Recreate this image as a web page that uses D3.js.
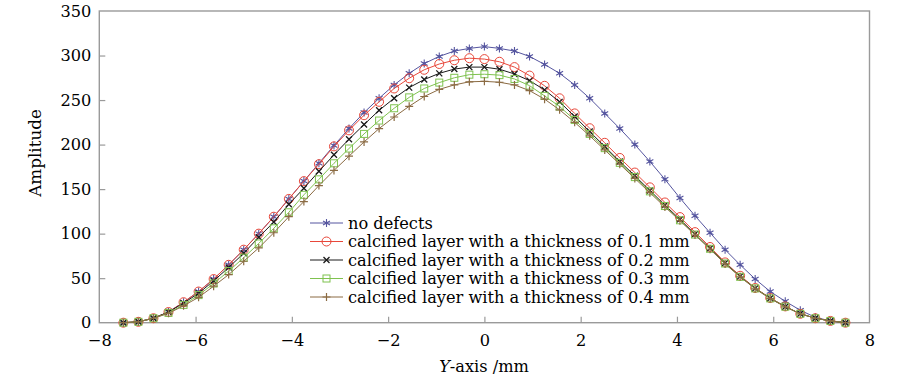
<!DOCTYPE html>
<html>
<head>
<meta charset="utf-8">
<script src="https://cdn.jsdelivr.net/npm/d3@7"></script>
<style>
  html, body { margin: 0; padding: 0; background: #fff; }
  svg text { font-family: "DejaVu Serif", "Liberation Serif", serif; fill: #000; }
</style>
</head>
<body>
<svg id="chart" width="900" height="375"></svg>
<script>
// ---- data ----
const xStart = -7.5, xStep = 0.3125;
const noDefects = [0,1,5,12,23,35,49,65,82,100,119,139,159,179,199,218,236,252,267,280,291,299,305,308,310,308,305,299,290,280,267,252,235,218,200,181,161,140,120,101,82,65,49,35,24,14,6,2,0];
const t01 = [0,1,5,12,23,35,49,65,82,100,119,139,159,178,198,216,233,248,263,274.5,284,290.5,294.7,297,296,293,287,277.5,266,252,235,218.4,202,185,168.6,152,135,118.6,101.7,85,67.7,52.7,39,27.7,18.3,10,5,2,0];
const t02 = [0,1,5,12,22,33,47,62,78,96,113,133,151,170,188.5,206,222.5,238.5,252,264,273,280,284.8,287,287,284.6,279.3,271.8,261.4,248,231.5,214.6,197.8,181,165,148.5,132,116,99.5,83.5,67,52,38.5,27.5,18,10,5,2,0];
const t03 = [0,1,5,11,20,31,44,58,73,89,106,124,143.6,161,179,195.6,212,227,240.8,253,263,269.6,275,278.5,279,278,273.7,266.2,254.7,242.7,227.7,212,196,179.5,163.5,147.5,131,115,99,83,66.5,51.5,38.5,27.3,18,10,5,2,0];
const t04 = [0,1,5,10.5,19,28.5,41,54,69,84,101,119,136,154,171,187,203,218,231,243,254,262,267,270.5,271,270,267,260.6,251,239,225,209.8,194,178,162,146,130,114.5,98.5,82.5,66,51.5,38,27,17.8,10,5,2,0];
const seriesNames = ["no defects","calcified layer with a thickness of 0.1 mm","calcified layer with a thickness of 0.2 mm","calcified layer with a thickness of 0.3 mm","calcified layer with a thickness of 0.4 mm"];
const xTicks = [-8,-6,-4,-2,0,2,4,6,8];
const yTicks = [0,50,100,150,200,250,300,350];

// ---- styling ----
const colors = ["#55559f","#e8473a","#1a1a1a","#7fc24f","#8b6b43"];
const markers = ["asterisk","circle","cross","square","plus"];
const allSeries = [noDefects,t01,t02,t03,t04];
const FS = 16.2;

const svg = d3.select("#chart");
const L = 99.3, R = 869.5, T = 11, B = 322.7;
const x = d3.scaleLinear().domain([-8,8]).range([L,R]);
const y = d3.scaleLinear().domain([0,350]).range([B,T]);
const axisColor = "#9a9a9a";

// frame
svg.append("rect").attr("x",L).attr("y",T).attr("width",R-L).attr("height",B-T)
  .attr("fill","none").attr("stroke",axisColor).attr("stroke-width",1.4);

// axes (ticks inward)
const fmt = d => d < 0 ? "\u2212" + Math.abs(d) : String(d);
const gx = svg.append("g").attr("transform",`translate(0,${B})`)
  .call(d3.axisBottom(x).tickValues(xTicks).tickFormat(fmt).tickSizeInner(-6).tickSizeOuter(0).tickPadding(12));
const gy = svg.append("g").attr("transform",`translate(${L},0)`)
  .call(d3.axisLeft(y).tickValues(yTicks).tickFormat(fmt).tickSizeInner(-6).tickSizeOuter(0).tickPadding(8));
[gx,gy].forEach(g => {
  g.select(".domain").remove();
  g.selectAll(".tick line").attr("stroke",axisColor).attr("stroke-width",1.2);
  g.selectAll(".tick text").attr("font-family","DejaVu Serif").attr("font-size",FS).attr("fill","#000");
});
gx.selectAll(".tick line").filter(d => d === -8 || d === 8).remove();
gy.selectAll(".tick line").filter(d => d === 0 || d === 350).remove();

// axis titles
const xt = svg.append("text").attr("x",484).attr("y",372).attr("text-anchor","middle").attr("font-size",FS);
xt.append("tspan").attr("font-style","italic").text("Y");
xt.append("tspan").text("-axis /mm");
svg.append("text").attr("transform","translate(41,153) rotate(-90)").attr("text-anchor","middle")
  .attr("font-size",FS+0.6).text("Amplitude");

// marker drawing
function drawMarker(g, type, cx, cy, color) {
  const sw = 1;
  if (type === "circle") {
    g.append("circle").attr("cx",cx).attr("cy",cy).attr("r",4.5).attr("fill","none").attr("stroke",color).attr("stroke-width",sw);
  } else if (type === "square") {
    g.append("rect").attr("x",cx-3.5).attr("y",cy-3.5).attr("width",7).attr("height",7).attr("fill","none").attr("stroke",color).attr("stroke-width",sw);
  } else if (type === "cross") {
    const s = 3;
    g.append("path").attr("d",`M${cx-s},${cy-s}L${cx+s},${cy+s}M${cx-s},${cy+s}L${cx+s},${cy-s}`).attr("stroke",color).attr("stroke-width",1.3);
  } else if (type === "plus") {
    const s = 4;
    g.append("path").attr("d",`M${cx-s},${cy}L${cx+s},${cy}M${cx},${cy-s}L${cx},${cy+s}`).attr("stroke",color).attr("stroke-width",1.2);
  } else if (type === "asterisk") {
    const s = 4;
    let d = "";
    for (let k = 0; k < 3; k++) {
      const a = Math.PI/2 + k*Math.PI/3;
      d += `M${cx - s*Math.cos(a)},${cy - s*Math.sin(a)}L${cx + s*Math.cos(a)},${cy + s*Math.sin(a)}`;
    }
    g.append("path").attr("d",d).attr("stroke",color).attr("stroke-width",1.1);
    g.append("circle").attr("cx",cx).attr("cy",cy).attr("r",1.3).attr("fill",color);
  }
}

const line = d3.line().x((d,i) => x(xStart + i*xStep)).y(d => y(d));
allSeries.forEach((vals, si) => {
  const g = svg.append("g");
  g.append("path").datum(vals).attr("d",line).attr("fill","none").attr("stroke",colors[si]).attr("stroke-width",1);
  vals.forEach((v,i) => drawMarker(g, markers[si], x(xStart + i*xStep), y(v), colors[si]));
});

// legend
const lg = svg.append("g");
seriesNames.forEach((name, i) => {
  const yy = 223 + i*18.5;
  lg.append("line").attr("x1",310).attr("x2",343).attr("y1",yy).attr("y2",yy).attr("stroke",colors[i]).attr("stroke-width",1);
  drawMarker(lg, markers[i], 326.5, yy, colors[i]);
  lg.append("text").attr("x",348).attr("y",yy).attr("dy","0.35em").attr("font-size",FS).text(name);
});
</script>
</body>
</html>
